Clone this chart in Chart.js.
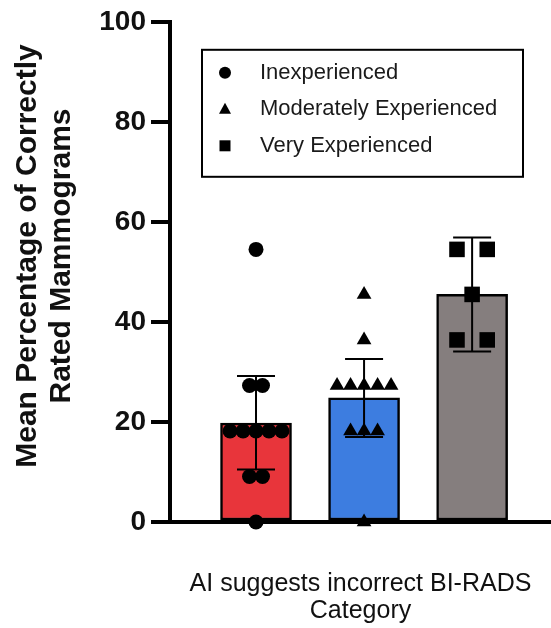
<!DOCTYPE html>
<html>
<head>
<meta charset="utf-8">
<script src="https://cdn.jsdelivr.net/npm/chart.js@4.4.1/dist/chart.umd.min.js"></script>
<style>
  body { margin: 0; background: #fff; }
</style>
</head>
<body>
<canvas id="chart" width="551" height="628"></canvas>
<script>
// data
const groups = ["Inexperienced", "Moderately Experienced", "Very Experienced"];
const meanValues = [19.8, 24.8, 45.5];
const ciLower = [10.5, 17.0, 34.1];
const ciUpper = [29.2, 32.6, 56.9];
const inexperienced = [54.5, 27.3, 27.3, 18.2, 18.2, 18.2, 18.2, 18.2, 9.1, 9.1, 0];
const moderate = [45.5, 36.4, 27.3, 27.3, 27.3, 27.3, 27.3, 18.2, 18.2, 18.2, 0];
const veryExp = [54.5, 54.5, 45.5, 36.4, 36.4];
const yTicks = [0, 20, 40, 60, 80, 100];
const yTitle = ["Mean Percentage of Correctly", "Rated Mammograms"];
const xTitle = ["AI suggests incorrect BI-RADS", "Category"];

// styles
const barColors = ['#e8353b', '#3d7de0', '#857e7e'];
const pointStyles = ['circle', 'triangle', 'rect'];
const pointSizes = [7.5, 8.5, 11];
const spread = [0.12, 0.125, 0.28]; // sideways gap between equal values
const family = "'Liberation Sans', Arial, Helvetica, sans-serif";

// spread equal values sideways like prism does
function scatterPoints(values, pos, gap) {
  const counts = {};
  values.forEach(v => counts[v] = (counts[v] || 0) + 1);
  const seen = {};
  return values.map(v => {
    const i = seen[v] || 0;
    seen[v] = i + 1;
    return { x: pos + (i - (counts[v] - 1) / 2) * gap, y: v };
  });
}

const errorBars = {
  id: 'errorBars',
  afterDatasetsDraw(chart) {
    const { ctx, scales: { x, y } } = chart;
    ctx.save();
    ctx.strokeStyle = '#000';
    ctx.lineWidth = 2;
    meanValues.forEach((m, i) => {
      const px = x.getPixelForValue(i + 1);
      const top = y.getPixelForValue(ciUpper[i]);
      const bot = y.getPixelForValue(ciLower[i]);
      ctx.beginPath();
      ctx.moveTo(px, top); ctx.lineTo(px, bot);
      ctx.moveTo(px - 19, top); ctx.lineTo(px + 19, top);
      ctx.moveTo(px - 19, bot); ctx.lineTo(px + 19, bot);
      ctx.stroke();
    });
    ctx.restore();
  }
};

// y title sits a bit above the axis middle in the figure, so draw it here
const yAxisTitle = {
  id: 'yAxisTitle',
  afterDraw(chart) {
    const { ctx } = chart;
    ctx.save();
    ctx.translate(0, 256);
    ctx.rotate(-Math.PI / 2);
    ctx.font = 'bold 30px ' + family;
    ctx.fillStyle = '#111';
    ctx.textAlign = 'center';
    ctx.textBaseline = 'middle';
    yTitle.forEach((line, i) => ctx.fillText(line, 0, 28 + i * 34));
    ctx.restore();
  }
};

function marker(ctx, style, cx, cy) {
  ctx.beginPath();
  if (style === 'circle') {
    ctx.arc(cx, cy, 6, 0, Math.PI * 2);
  } else if (style === 'triangle') {
    ctx.moveTo(cx, cy - 6.5);
    ctx.lineTo(cx + 6, cy + 4.5);
    ctx.lineTo(cx - 6, cy + 4.5);
    ctx.closePath();
  } else {
    ctx.rect(cx - 5.5, cy - 5.5, 11, 11);
  }
  ctx.fill();
}

const boxLegend = {
  id: 'boxLegend',
  afterDraw(chart) {
    const { ctx, chartArea } = chart;
    const left = chartArea.left + 32, top = chartArea.top + 28;
    ctx.save();
    ctx.lineWidth = 2;
    ctx.strokeStyle = '#000';
    ctx.strokeRect(left, top, 321, 127);
    ctx.font = '22px ' + family;
    ctx.textBaseline = 'middle';
    chart.data.datasets.filter(d => d.type === 'scatter').forEach((d, i) => {
      const cy = top + 23 + i * 36.5;
      ctx.fillStyle = '#000';
      marker(ctx, d.pointStyle, left + 23, cy);
      ctx.fillStyle = '#1a1a1a';
      ctx.fillText(d.label, left + 58, cy);
    });
    ctx.restore();
  }
};

const allPoints = [inexperienced, moderate, veryExp];

const datasets = [{
  type: 'bar',
  data: meanValues.map((v, i) => ({ x: i + 1, y: v })),
  backgroundColor: barColors,
  borderColor: '#000',
  borderWidth: 2.5,
  borderSkipped: false,
  barThickness: 71,
  order: 1
}];

allPoints.forEach((vals, i) => {
  datasets.push({
    type: 'scatter',
    label: groups[i],
    data: scatterPoints(vals, i + 1, spread[i]),
    pointStyle: pointStyles[i],
    pointRadius: pointSizes[i],
    pointBackgroundColor: '#000',
    pointBorderWidth: 0,
    clip: false,
    order: 0
  });
});

new Chart(document.getElementById('chart'), {
  type: 'bar',
  data: { datasets: datasets },
  options: {
    responsive: false,
    animation: false,
    devicePixelRatio: 1,
    layout: { autoPadding: false, padding: { top: 19, right: 0, bottom: 0, left: 0 } },
    plugins: {
      legend: { display: false },
      tooltip: { enabled: false }
    },
    scales: {
      x: {
        type: 'linear',
        offset: false,
        min: 0.204,
        max: 3.73,
        afterFit: s => { s.height = 106; },
        ticks: { display: false },
        grid: { display: false },
        border: { color: '#000', width: 4 },
        title: {
          display: true,
          text: xTitle,
          color: '#111',
          font: { family: family, size: 25, lineHeight: 1.1 },
          padding: { top: 0, bottom: 3 }
        }
      },
      y: {
        min: 0,
        max: 100,
        afterFit: s => { s.width = 170; },
        afterBuildTicks: s => { s.ticks = yTicks.map(v => ({ value: v })); },
        border: { color: '#000', width: 4 },
        grid: { drawOnChartArea: false, color: '#000', lineWidth: 4, tickLength: 19, tickWidth: 4, tickColor: '#000' },
        ticks: { color: '#111', padding: 5, font: { family: family, size: 28, weight: 'bold' } },
        title: { display: false }
      }
    }
  },
  plugins: [errorBars, yAxisTitle, boxLegend]
});
</script>
</body>
</html>
